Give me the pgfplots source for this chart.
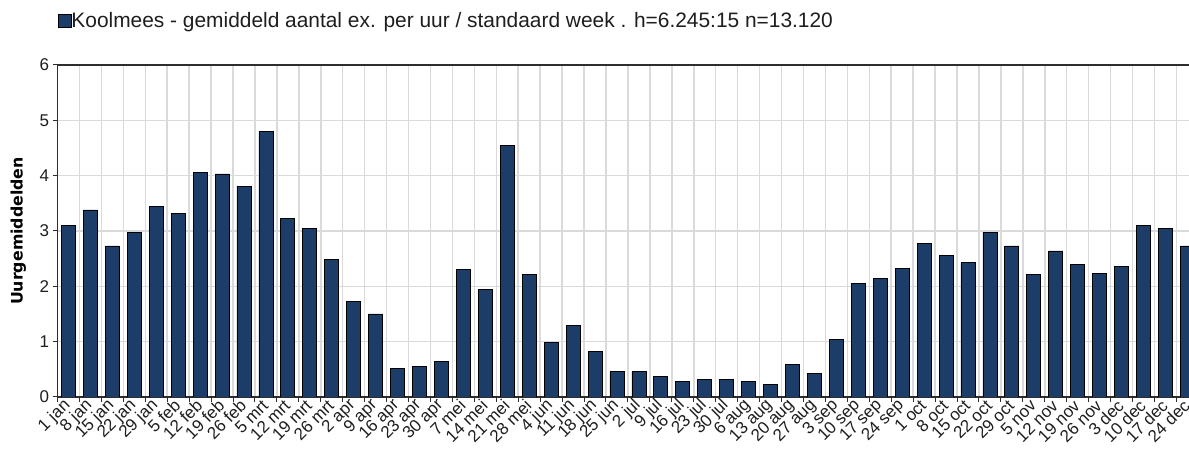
\documentclass[border=0pt]{standalone}
\usepackage{fontspec}
\setmainfont{Liberation Sans}
\newfontfamily\labfont{DejaVu Sans}
\usepackage{pgfplots}
\pgfplotsset{compat=1.18}
\definecolor{barcol}{RGB}{28,61,104}
\definecolor{gridcol}{RGB}{218,218,218}
\definecolor{axcol}{RGB}{45,45,45}
\definecolor{txtcol}{RGB}{30,30,30}
\begin{document}
\begin{tikzpicture}[x=1bp,y=1bp]
\useasboundingbox (0,0) rectangle (1189,450);
\clip (0,0) rectangle (1189,450);
\begin{axis}[
  at={(57.5bp,53bp)}, anchor=south west,
  scale only axis, width=1140.9bp, height=332bp,
  xmin=-0.5, xmax=51.5, ymin=0, ymax=6,
  ytick={0,1,2,3,4,5,6},
  xtick={-0.5,0.5,...,51.5},
  x tick label as interval,
  xtick pos=bottom, ytick pos=left,
  xticklabels={1 jan,8 jan,15 jan,22 jan,29 jan,5 feb,12 feb,19 feb,26 feb,5 mrt,12 mrt,19 mrt,26 mrt,2 apr,9 apr,16 apr,23 apr,30 apr,7 mei,14 mei,21 mei,28 mei,4 jun,11 jun,18 jun,25 jun,2 jul,9 jul,16 jul,23 jul,30 jul,6 aug,13 aug,20 aug,27 aug,3 sep,10 sep,17 sep,24 sep,1 oct,8 oct,15 oct,22 oct,29 oct,5 nov,12 nov,19 nov,26 nov,3 dec,10 dec,17 dec,24 dec},
  x tick label style={rotate=45, anchor=east, font=\fontsize{17bp}{19bp}\selectfont, text=txtcol, inner sep=1bp},
  y tick label style={font=\fontsize{17bp}{20bp}\selectfont, text=txtcol},
  /pgf/number format/assume math mode=true,
  grid=major,
  grid style={draw=gridcol, line width=1.5bp},
  axis line style={draw=axcol, line width=1.3bp},
  tick align=outside, major tick length=5bp,
  tick style={draw=axcol, line width=1bp},
  ylabel={Uurgemiddelden},
  every axis y label/.style={at={(axis description cs:0,0.5)}, rotate=90, anchor=south, yshift=28bp, font=\labfont\bfseries\fontsize{15.8bp}{18bp}\selectfont, text=black},
  ybar, bar width=14bp,
  legend style={at={(axis description cs:0,1)}, anchor=south west, yshift=35.5bp, draw=none, fill=none, inner sep=0pt, font=\fontsize{20.9bp}{24bp}\selectfont, text=txtcol, nodes={inner sep=0pt}, /tikz/every even column/.append style={column sep=3bp}},
  legend image code/.code={\draw[fill=barcol, draw=black, line width=0.8bp] (0bp,-6.3bp) rectangle (13bp,6.7bp);},
]
\addplot[fill=barcol, draw=black, line width=0.8bp] coordinates {
(0,3.10) (1,3.38) (2,2.73) (3,2.98) (4,3.44) (5,3.32) (6,4.06) (7,4.03) (8,3.81) (9,4.80)
(10,3.23) (11,3.04) (12,2.49) (13,1.72) (14,1.50) (15,0.52) (16,0.55) (17,0.64) (18,2.30) (19,1.94)
(20,4.55) (21,2.21) (22,0.98) (23,1.29) (24,0.83) (25,0.46) (26,0.46) (27,0.37) (28,0.28) (29,0.31)
(30,0.31) (31,0.28) (32,0.22) (33,0.58) (34,0.43) (35,1.04) (36,2.06) (37,2.15) (38,2.33) (39,2.77)
(40,2.55) (41,2.43) (42,2.98) (43,2.73) (44,2.21) (45,2.64) (46,2.39) (47,2.24) (48,2.36) (49,3.10)
(50,3.04) (51,2.73)
};
\addlegendentry{Koolmees - gemiddeld aantal ex. per uur / standaard week . h=6.245:15 n=13.120}
\end{axis}
\end{tikzpicture}
\end{document}
